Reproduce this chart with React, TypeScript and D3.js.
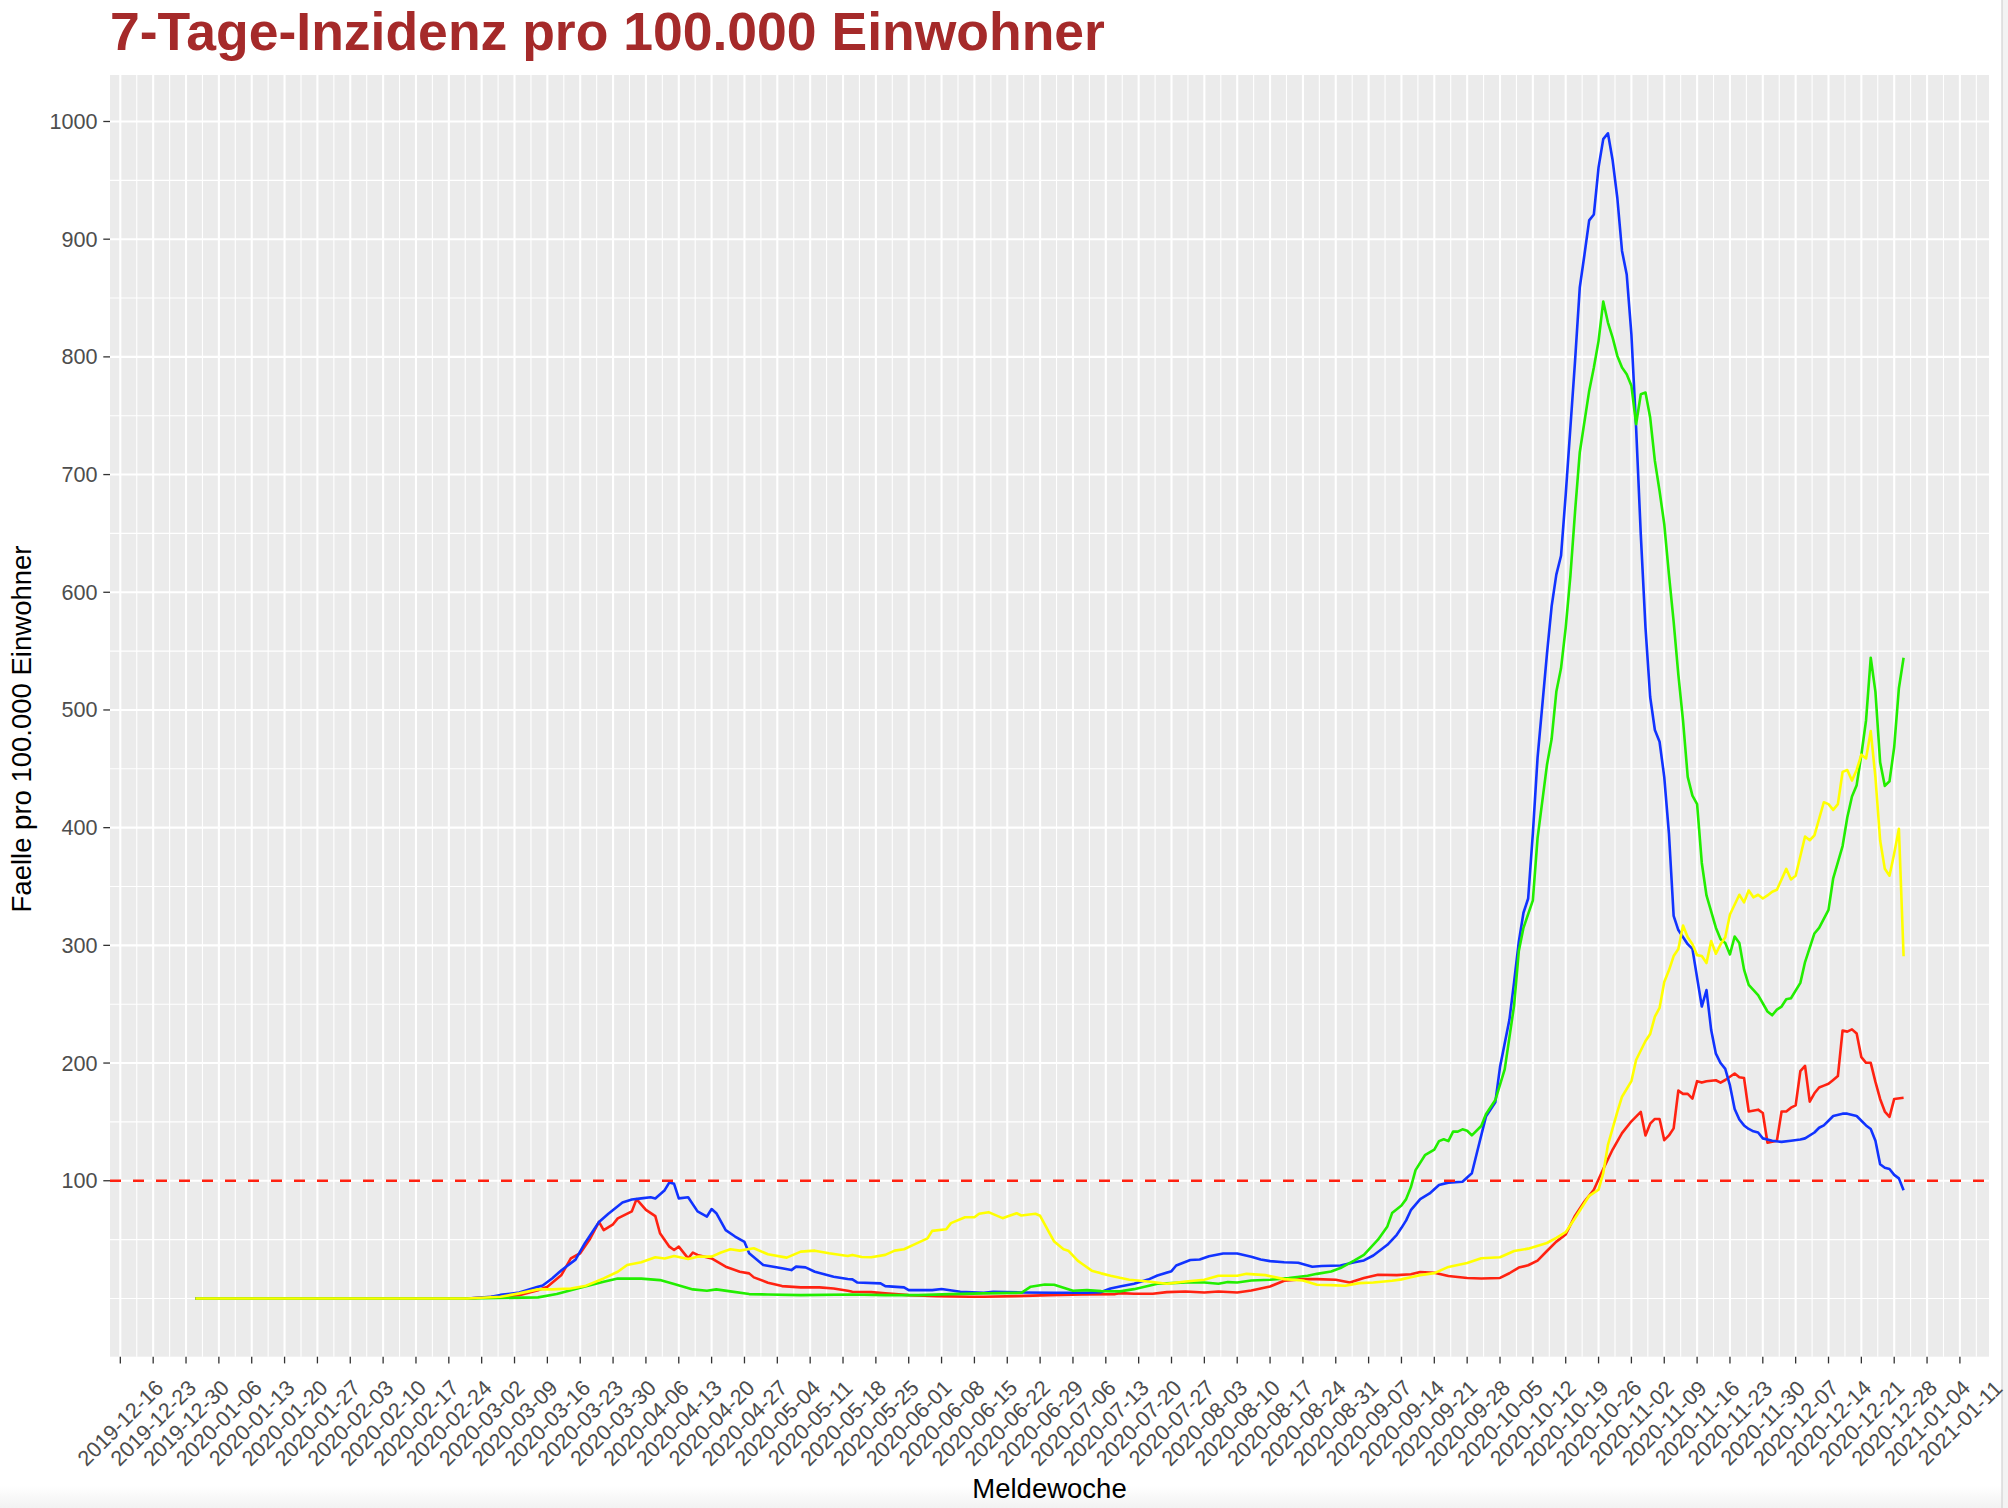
import { scaleUtc, scaleLinear, line, range, extent, utcMonday, utcFormat } from 'd3';

// 7-day incidence per 100k, four series (dates in 2020, MM-DD)
const redSeries: [string, number][] = [
  ['01-01', 0], ['02-28', 0], ['03-10', 2.8], ['03-14', 7], ['03-16', 10], ['03-19', 20], ['03-21', 34],
  ['03-23', 38.4], ['03-25', 50], ['03-27', 65], ['03-28', 58], ['03-30', 63], ['03-31', 68], ['04-03', 74],
  ['04-04', 84.4], ['04-06', 75.3], ['04-08', 70], ['04-09', 55.4], ['04-11', 44], ['04-12', 41.2], ['04-13', 44],
  ['04-15', 34], ['04-16', 39], ['04-17', 37], ['04-20', 34], ['04-23', 27], ['04-26', 22.7], ['04-28', 21.3],
  ['04-29', 17.9], ['05-02', 13.4], ['05-05', 10.5], ['05-09', 9.4], ['05-13', 9.4], ['05-16', 8.5], ['05-19', 6.5],
  ['05-20', 5.7], ['05-24', 5.4], ['05-27', 4.3], ['06-01', 2.8], ['06-07', 2], ['06-14', 1.4], ['06-17', 1.4],
  ['06-24', 2], ['07-01', 2.8], ['07-08', 3.4], ['07-15', 3.7], ['07-16', 4.5], ['07-19', 4], ['07-23', 4],
  ['07-26', 5.4], ['07-30', 5.9], ['08-03', 5.1], ['08-06', 5.9], ['08-10', 5.1], ['08-13', 6.8], ['08-17', 10.2],
  ['08-20', 15], ['08-24', 16.4], ['08-27', 16.4], ['08-31', 15.9], ['09-03', 13.6], ['09-06', 17.3], ['09-09', 20.1],
  ['09-13', 19.8], ['09-16', 20.5], ['09-18', 22.5], ['09-21', 21.8], ['09-24', 19], ['09-28', 17.4], ['10-01', 17],
  ['10-05', 17.4], ['10-07', 21.4], ['10-09', 26.2], ['10-11', 28.2], ['10-13', 32.2], ['10-15', 40.3], ['10-17', 48.3],
  ['10-19', 54.3], ['10-21', 70.3], ['10-23', 82.4], ['10-25', 92.4], ['10-27', 110], ['10-29', 126.5], ['10-31', 140.5],
  ['11-02', 150.5], ['11-04', 158.5], ['11-05', 138.5], ['11-06', 148.5], ['11-07', 152.5], ['11-08', 152.5],
  ['11-09', 134.5], ['11-10', 138.5], ['11-11', 144.5], ['11-12', 176.6], ['11-13', 173.8], ['11-14', 173.8],
  ['11-15', 169.8], ['11-16', 184.6], ['11-17', 183.4], ['11-18', 184.6], ['11-20', 185.4], ['11-21', 183.4],
  ['11-22', 185.6], ['11-24', 191.1], ['11-25', 187.9], ['11-26', 187.3], ['11-27', 158.8], ['11-29', 160.4],
  ['11-30', 157.5], ['12-01', 132.3], ['12-03', 133.9], ['12-04', 158.8], ['12-05', 158.8], ['12-06', 162.1],
  ['12-07', 164], ['12-08', 193.1], ['12-09', 197.6], ['12-10', 167.2], ['12-11', 174.3], ['12-12', 179.2],
  ['12-13', 180.8], ['12-14', 182.4], ['12-15', 185.6], ['12-16', 188.9], ['12-17', 227.7], ['12-18', 226.7],
  ['12-19', 228.6], ['12-20', 225.1], ['12-21', 205], ['12-22', 200.2], ['12-23', 200.2], ['12-24', 184],
  ['12-25', 169.5], ['12-26', 158.8], ['12-27', 154.3], ['12-28', 169.5], ['12-30', 170.5],
];

const blueSeries: [string, number][] = [
  ['01-01', 0], ['02-28', 0], ['03-04', 1.4], ['03-06', 3], ['03-10', 5], ['03-14', 10], ['03-15', 11], ['03-17', 17],
  ['03-19', 24], ['03-22', 33], ['03-24', 47], ['03-27', 65], ['03-29', 72], ['04-01', 81.5], ['04-03', 84],
  ['04-05', 85], ['04-07', 86], ['04-08', 85], ['04-10', 92], ['04-11', 98.6], ['04-12', 97.4], ['04-13', 85],
  ['04-15', 86], ['04-17', 74], ['04-19', 69.6], ['04-20', 76], ['04-21', 72.4], ['04-23', 58], ['04-25', 52.6],
  ['04-27', 48], ['04-28', 38.4], ['05-01', 28.4], ['05-05', 25.6], ['05-07', 24.1], ['05-08', 27], ['05-10', 26.4],
  ['05-12', 22.7], ['05-16', 18.5], ['05-19', 16.5], ['05-20', 16.2], ['05-21', 13.6], ['05-26', 12.8], ['05-27', 10.5],
  ['05-31', 9.4], ['06-01', 7.1], ['06-06', 7.1], ['06-08', 8], ['06-12', 5.7], ['06-17', 4.8], ['06-19', 5.7],
  ['06-25', 5.1], ['07-02', 4.8], ['07-09', 4.8], ['07-12', 5.4], ['07-14', 8.5], ['07-16', 10.2], ['07-19', 12.5],
  ['07-22', 16], ['07-24', 19.5], ['07-27', 23.2], ['07-28', 28], ['07-31', 32.6], ['08-02', 33.1], ['08-04', 35.9],
  ['08-07', 38.2], ['08-10', 38.2], ['08-13', 35.4], ['08-15', 33.1], ['08-17', 31.7], ['08-20', 30.8], ['08-23', 30.3],
  ['08-26', 26.9], ['08-28', 27.5], ['09-01', 28], ['09-04', 30.8], ['09-06', 32.3], ['09-08', 36.5], ['09-11', 45.6],
  ['09-13', 54.1], ['09-14', 60], ['09-15', 66.3], ['09-16', 75], ['09-18', 84.4], ['09-20', 89.2], ['09-22', 96.4],
  ['09-24', 98.4], ['09-27', 99.2], ['09-29', 106.4], ['09-30', 122.5], ['10-02', 154.5], ['10-04', 166.6],
  ['10-05', 196.6], ['10-07', 236.7], ['10-08', 268.8], ['10-09', 302.9], ['10-10', 327.7], ['10-11', 339.8],
  ['10-12', 395.1], ['10-13', 459.3], ['10-15', 547.5], ['10-16', 588], ['10-17', 615], ['10-18', 631], ['10-19', 683],
  ['10-20', 740], ['10-21', 797], ['10-22', 859], ['10-23', 887], ['10-24', 916], ['10-25', 921], ['10-26', 961],
  ['10-27', 985], ['10-28', 990], ['10-29', 967], ['10-30', 935], ['10-31', 890], ['11-01', 870], ['11-02', 819],
  ['11-03', 740], ['11-04', 649], ['11-05', 570], ['11-06', 511], ['11-07', 483], ['11-08', 473], ['11-09', 443],
  ['11-10', 395], ['11-11', 325], ['11-12', 313], ['11-14', 301], ['11-15', 297], ['11-17', 248], ['11-18', 262],
  ['11-19', 228], ['11-20', 208], ['11-21', 200], ['11-22', 195], ['11-23', 181], ['11-24', 161], ['11-25', 152],
  ['11-26', 147], ['11-27', 144], ['11-28', 142], ['11-29', 141], ['11-30', 136], ['12-01', 135], ['12-02', 134],
  ['12-04', 133], ['12-06', 134], ['12-08', 135], ['12-09', 136], ['12-11', 141], ['12-12', 145], ['12-13', 147],
  ['12-15', 155], ['12-17', 157], ['12-18', 157], ['12-20', 155], ['12-22', 147], ['12-23', 144], ['12-24', 134],
  ['12-25', 114], ['12-26', 111], ['12-27', 110], ['12-28', 105], ['12-29', 102], ['12-30', 92],
];

const greenSeries: [string, number][] = [
  ['01-01', 0], ['02-28', 0], ['03-14', 0.9], ['03-18', 3.7], ['03-21', 7], ['03-23', 9], ['03-28', 14.2],
  ['03-31', 17], ['04-05', 16.8], ['04-09', 15.6], ['04-12', 12.2], ['04-16', 7.7], ['04-19', 6.5], ['04-21', 7.7],
  ['04-24', 6], ['04-28', 3.7], ['05-02', 3.4], ['05-09', 2.8], ['05-20', 3.4], ['05-27', 2.8], ['06-03', 2.8],
  ['06-10', 3.7], ['06-17', 4.3], ['06-25', 4.8], ['06-27', 10], ['06-30', 11.9], ['07-02', 11.6], ['07-04', 9],
  ['07-06', 6.5], ['07-09', 7.1], ['07-12', 6.2], ['07-16', 6], ['07-19', 7.9], ['07-24', 12.5], ['07-27', 13],
  ['07-30', 13.6], ['08-03', 13.6], ['08-06', 12.5], ['08-08', 13.9], ['08-10', 13.6], ['08-13', 15.3], ['08-17', 15.9],
  ['08-21', 17.3], ['08-25', 19.3], ['08-27', 20.9], ['08-30', 22.9], ['09-01', 25.8], ['09-04', 32.3], ['09-06', 37.1],
  ['09-09', 49.9], ['09-11', 61.2], ['09-12', 72.5], ['09-14', 79], ['09-15', 84.4], ['09-16', 94.4], ['09-17', 109],
  ['09-19', 121.7], ['09-21', 126.5], ['09-22', 133.7], ['09-23', 135.3], ['09-24', 133.7], ['09-25', 141.7],
  ['09-26', 141.7], ['09-27', 143.7], ['09-28', 142.5], ['09-29', 138.5], ['10-01', 146.5], ['10-02', 156.5],
  ['10-04', 168.6], ['10-06', 194.6], ['10-08', 248.8], ['10-09', 294.9], ['10-10', 314.9], ['10-12', 338.2],
  ['10-13', 391.1], ['10-15', 453.2], ['10-16', 475.3], ['10-17', 515.4], ['10-18', 535.4], ['10-19', 570],
  ['10-20', 614], ['10-21', 669], ['10-22', 719], ['10-24', 771.1], ['10-25', 790.9], ['10-26', 813.6], ['10-27', 847],
  ['10-28', 829.2], ['10-29', 816.4], ['10-30', 800.8], ['10-31', 790.9], ['11-01', 785.3], ['11-02', 775.4],
  ['11-03', 742.8], ['11-04', 768.3], ['11-05', 769.7], ['11-06', 748.4], ['11-07', 711.6], ['11-08', 686.1],
  ['11-09', 657.8], ['11-10', 615], ['11-11', 575], ['11-12', 530], ['11-13', 491], ['11-14', 443.2], ['11-15', 427.2],
  ['11-16', 420], ['11-17', 370], ['11-18', 342.4], ['11-20', 315], ['11-21', 305.2], ['11-22', 302], ['11-23', 292.3],
  ['11-24', 307.5], ['11-25', 302], ['11-26', 279.4], ['11-27', 266.4], ['11-29', 257.7], ['12-01', 243.8],
  ['12-02', 240.6], ['12-03', 245.4], ['12-04', 248], ['12-05', 254.2], ['12-06', 255.1], ['12-08', 268.1],
  ['12-09', 285.8], ['12-11', 310.1], ['12-12', 314.9], ['12-14', 330.1], ['12-15', 357], ['12-17', 384.4],
  ['12-18', 408.7], ['12-19', 426.4], ['12-20', 436.1], ['12-21', 462], ['12-22', 491.1], ['12-23', 544.4],
  ['12-24', 515.4], ['12-25', 455.5], ['12-26', 435.5], ['12-27', 439.4], ['12-28', 468.5], ['12-29', 518.5],
  ['12-30', 544.4],
];

const yellowSeries: [string, number][] = [
  ['01-01', 0], ['02-28', 0], ['03-06', 1.4], ['03-10', 4.3], ['03-14', 7.7], ['03-17', 7.7], ['03-21', 8.5],
  ['03-24', 10.5], ['03-28', 17], ['03-31', 22.7], ['04-02', 28.4], ['04-05', 30.7], ['04-08', 35], ['04-10', 34],
  ['04-12', 36], ['04-15', 33.5], ['04-17', 35.5], ['04-20', 35.5], ['04-22', 39], ['04-24', 41.8], ['04-26', 40.6],
  ['04-29', 42.6], ['05-02', 37.5], ['05-06', 34.7], ['05-09', 39.8], ['05-12', 40.6], ['05-15', 38.4], ['05-19', 36],
  ['05-20', 37], ['05-22', 35.2], ['05-24', 35], ['05-27', 37], ['05-29', 40.6], ['05-31', 41.8], ['06-02', 45.5],
  ['06-05', 51], ['06-06', 57.4], ['06-09', 58.8], ['06-10', 64], ['06-13', 69], ['06-15', 69], ['06-16', 71.9],
  ['06-18', 73.3], ['06-21', 68.2], ['06-22', 69.6], ['06-24', 72.4], ['06-25', 70.5], ['06-28', 71.9], ['06-29', 70.2],
  ['07-01', 55.4], ['07-02', 48.3], ['07-04', 41.8], ['07-05', 40.6], ['07-07', 32.1], ['07-08', 29.3], ['07-10', 23.6],
  ['07-12', 21.3], ['07-14', 19.3], ['07-16', 17.5], ['07-18', 15.9], ['07-22', 14.4], ['07-26', 12.5], ['07-30', 14.4],
  ['08-03', 15.9], ['08-06', 19.3], ['08-10', 19.3], ['08-12', 20.9], ['08-16', 19.8], ['08-20', 16.4], ['08-24', 15.3],
  ['08-27', 11.6], ['08-30', 11.3], ['09-02', 10.8], ['09-05', 13], ['09-08', 13.6], ['09-12', 15], ['09-14', 16.2],
  ['09-16', 18], ['09-18', 19.8], ['09-21', 21.5], ['09-24', 26.8], ['09-28', 30.2], ['10-01', 34.2], ['10-05', 35],
  ['10-08', 40.3], ['10-11', 42.3], ['10-15', 47.1], ['10-17', 51.5], ['10-19', 56.3], ['10-21', 68.3], ['10-24', 87.2],
  ['10-26', 92.4], ['10-27', 106.4], ['10-28', 130.5], ['10-30', 158.5], ['10-31', 171.4], ['11-02', 184.6],
  ['11-03', 202.6], ['11-05', 218.7], ['11-06', 224.7], ['11-07', 239.5], ['11-08', 246.8], ['11-09', 268.8],
  ['11-10', 278.8], ['11-11', 290.9], ['11-12', 296.9], ['11-13', 316.9], ['11-14', 306.9], ['11-15', 300.9],
  ['11-16', 291.7], ['11-17', 290.9], ['11-18', 285], ['11-19', 303.7], ['11-20', 292.9], ['11-21', 300.9],
  ['11-22', 306.9], ['11-23', 326.2], ['11-25', 343], ['11-26', 336.5], ['11-27', 346.6], ['11-28', 340.8],
  ['11-29', 343], ['11-30', 339.8], ['12-01', 342.4], ['12-02', 345.6], ['12-03', 347.2], ['12-05', 365],
  ['12-06', 356], ['12-07', 359.2], ['12-09', 392.5], ['12-10', 389.3], ['12-11', 393.5], ['12-13', 421.6],
  ['12-14', 420], ['12-15', 415.1], ['12-16', 420], ['12-17', 447.4], ['12-18', 449], ['12-19', 440], ['12-20', 449],
  ['12-21', 462], ['12-22', 458.8], ['12-23', 482], ['12-24', 442.7], ['12-25', 389.3], ['12-26', 365],
  ['12-27', 359.2], ['12-28', 378], ['12-29', 399], ['12-30', 290.7],
];

// drawing order as in the reference: yellow ends up on top
const seriesList = [
  { name: 'red', color: '#ff2211', values: redSeries },
  { name: 'blue', color: '#1133ff', values: blueSeries },
  { name: 'green', color: '#22ee00', values: greenSeries },
  { name: 'yellow', color: '#ffff00', values: yellowSeries },
];

const yBreaks = range(100, 1001, 100);
const threshold = 100;

const titleText = '7-Tage-Inzidenz pro 100.000 Einwohner';
const xTitle = 'Meldewoche';
const yTitle = 'Faelle pro 100.000 Einwohner';

const width = 2008;
const height = 1508;
const panel = { left: 110, right: 1989, top: 75, bottom: 1356.7 };
const font = '"Liberation Sans", Arial, Helvetica, sans-serif';
const DAY = 86400000;

type Point = { date: Date; value: number };
const parse = (d: string) => new Date(`2020-${d}T00:00:00Z`);

export default function App() {
  const lines = seriesList.map((s) => ({
    ...s,
    points: s.values.map(([d, v]) => ({ date: parse(d), value: v })) as Point[],
  }));
  const all = lines.flatMap((l) => l.points);

  // ggplot-like 5% expansion on both axes
  const [x0, x1] = extent(all, (p) => p.date.getTime()) as [number, number];
  const xPad = (x1 - x0) * 0.05;
  const x = scaleUtc()
    .domain([new Date(x0 - xPad), new Date(x1 + xPad)])
    .range([panel.left, panel.right]);

  const [y0, y1] = extent(all, (p) => p.value) as [number, number];
  const yPad = (y1 - y0) * 0.05;
  const yMin = y0 - yPad;
  const yMax = y1 + yPad;
  const y = scaleLinear().domain([yMin, yMax]).range([panel.bottom, panel.top]);

  // weekly breaks on Mondays, minor lines half-way between
  const [dMin, dMax] = x.domain();
  const weekTicks = utcMonday.range(utcMonday.ceil(dMin), dMax);
  const minorX = [weekTicks[0].getTime() - 3.5 * DAY, ...weekTicks.map((d) => d.getTime() + 3.5 * DAY)]
    .filter((t) => t > dMin.getTime() && t < dMax.getTime())
    .map((t) => new Date(t));
  const minorY = [0, ...yBreaks.map((b) => b - 50), yBreaks[yBreaks.length - 1] + 50].filter(
    (v) => v > yMin && v < yMax
  );

  const fmt = utcFormat('%Y-%m-%d');
  const path = line<Point>()
    .x((p) => x(p.date))
    .y((p) => y(p.value));

  const labelY = 1423;
  const yTitleY = 729;

  return (
    <div style={{ position: 'absolute', left: 0, top: 0 }}>
      <svg width={width} height={height} style={{ display: 'block', fontFamily: font }}>
        <defs>
          <linearGradient id="bottomShade" x1="0" y1="0" x2="0" y2="1">
            <stop offset="0" stopColor="#ffffff" />
            <stop offset="1" stopColor="#f2f2f2" />
          </linearGradient>
          <clipPath id="panelClip">
            <rect x={panel.left} y={panel.top} width={panel.right - panel.left} height={panel.bottom - panel.top} />
          </clipPath>
        </defs>
        <rect x={0} y={0} width={width} height={height} fill="#ffffff" />
        <rect x={0} y={1486} width={width} height={height - 1486} fill="url(#bottomShade)" />
        <rect x={2002} y={0} width={6} height={height} fill="#f3f3f3" />
        <line x1={2002} x2={2002} y1={0} y2={height} stroke="#d2d2d2" strokeWidth={1.2} />

        <text x={110} y={50} fontSize={53.5} fontWeight="bold" fill="#a52a2a">
          {titleText}
        </text>

        {/* panel */}
        <rect
          x={panel.left}
          y={panel.top}
          width={panel.right - panel.left}
          height={panel.bottom - panel.top}
          fill="#ebebeb"
        />
        <g stroke="#ffffff" strokeWidth={1.1}>
          {minorX.map((d) => (
            <line key={`mx${d.getTime()}`} x1={x(d)} x2={x(d)} y1={panel.top} y2={panel.bottom} />
          ))}
          {minorY.map((v) => (
            <line key={`my${v}`} x1={panel.left} x2={panel.right} y1={y(v)} y2={y(v)} />
          ))}
        </g>
        <g stroke="#ffffff" strokeWidth={2.1}>
          {weekTicks.map((d) => (
            <line key={`gx${d.getTime()}`} x1={x(d)} x2={x(d)} y1={panel.top} y2={panel.bottom} />
          ))}
          {yBreaks.map((v) => (
            <line key={`gy${v}`} x1={panel.left} x2={panel.right} y1={y(v)} y2={y(v)} />
          ))}
        </g>

        <g clipPath="url(#panelClip)" fill="none" strokeWidth={2.6} strokeLinejoin="round" strokeLinecap="butt">
          {lines.map((l) => (
            <path key={l.name} d={path(l.points) ?? ''} stroke={l.color} />
          ))}
          <line
            x1={panel.left}
            x2={panel.right}
            y1={y(threshold)}
            y2={y(threshold)}
            stroke="#ff2211"
            strokeWidth={2.7}
            strokeDasharray="11 12"
          />
        </g>

        {/* y axis */}
        <g>
          {yBreaks.map((v) => (
            <g key={`yt${v}`}>
              <line x1={panel.left - 6.7} x2={panel.left} y1={y(v)} y2={y(v)} stroke="#333333" strokeWidth={1.3} />
              <text
                x={panel.left - 12.5}
                y={y(v)}
                textAnchor="end"
                dominantBaseline="central"
                fontSize={21.6}
                fill="#4d4d4d"
              >
                {v}
              </text>
            </g>
          ))}
        </g>

        {/* x axis */}
        <g>
          {weekTicks.map((d) => {
            const tx = x(d);
            return (
              <g key={`xt${d.getTime()}`}>
                <line x1={tx} x2={tx} y1={panel.bottom} y2={panel.bottom + 6.7} stroke="#333333" strokeWidth={1.3} />
                <text
                  x={tx}
                  y={labelY}
                  textAnchor="middle"
                  dominantBaseline="central"
                  fontSize={21.6}
                  fill="#4d4d4d"
                  transform={`rotate(-45, ${tx}, ${labelY})`}
                >
                  {fmt(d)}
                </text>
              </g>
            );
          })}
        </g>

        <text x={(panel.left + panel.right) / 2} y={1498} textAnchor="middle" fontSize={27.5} fill="#000000">
          {xTitle}
        </text>
        <text
          x={31}
          y={yTitleY}
          textAnchor="middle"
          fontSize={27.5}
          fill="#000000"
          transform={`rotate(-90, 31, ${yTitleY})`}
        >
          {yTitle}
        </text>
      </svg>
    </div>
  );
}
